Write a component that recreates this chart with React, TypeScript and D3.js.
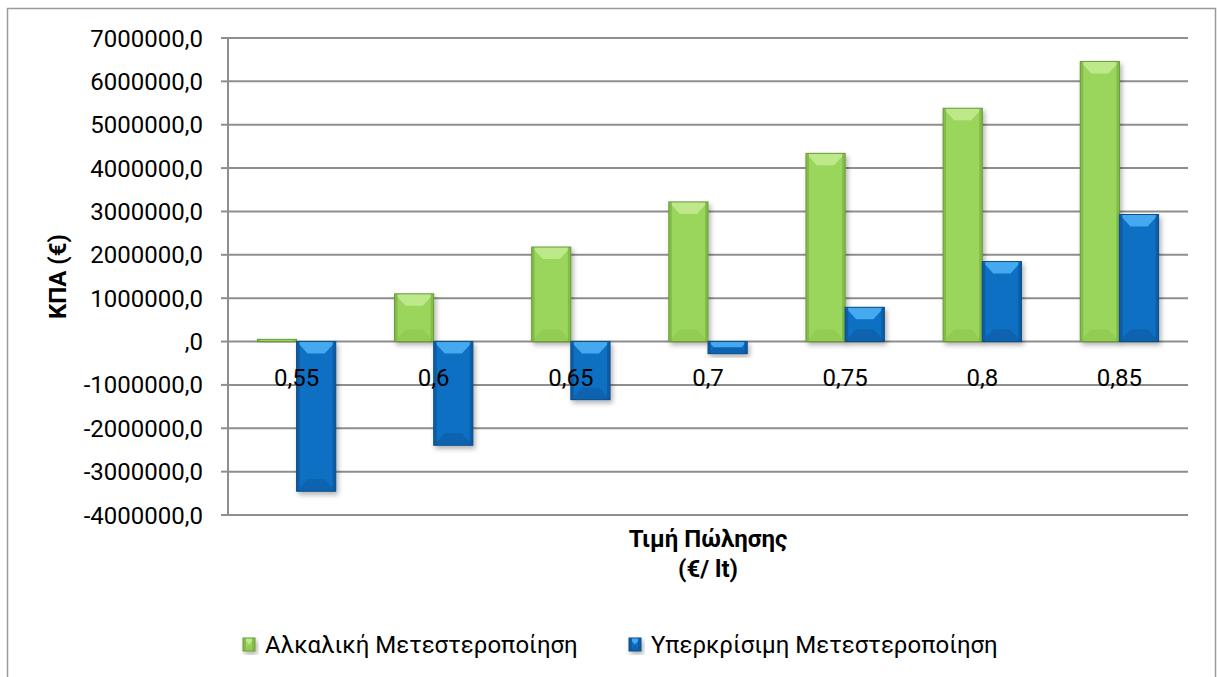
import React from "react";
import * as d3 from "d3";

// Selling price categories (€/lt)
const categories = ["0,55", "0,6", "0,65", "0,7", "0,75", "0,8", "0,85"];
// Net present value (€) per process
const alkaline = [50000, 1100000, 2180000, 3220000, 4340000, 5380000, 6460000];
const supercritical = [-3450000, -2390000, -1340000, -280000, 790000, 1845000, 2930000];
const seriesNames = ["Αλκαλική Μετεστεροποίηση", "Υπερκρίσιμη Μετεστεροποίηση"];
const yTicks = [7000000, 6000000, 5000000, 4000000, 3000000, 2000000, 1000000, 0, -1000000, -2000000, -3000000, -4000000];

const W = 1217;
const H = 677;
const FONT = "Roboto, 'Noto Sans', sans-serif";

type Palette = { main: string; top: string; bottom: string; edge: string; line: string };
const palettes: Palette[] = [
  { main: "#9bd65b", top: "#bde98b", bottom: "#92cc53", edge: "#7db545", line: "#6a9b38" },
  { main: "#0b6fc3", top: "#44a9ef", bottom: "#0963b0", edge: "#08579c", line: "#0a4e8a" },
];

const fmt = (v: number) => (v === 0 ? ",0" : `${v},0`);

function BevelBar({ x, y, w, h, p }: { x: number; y: number; w: number; h: number; p: Palette }) {
  const bv = Math.min(12, h / 2);
  const bx = Math.min(11, w / 2, bv);
  const e = Math.min(3, w / 4);
  return (
    <g filter="url(#shadow)">
      <rect x={x} y={y} width={w} height={h} fill={p.main} />
      <polygon
        points={`${x},${y} ${x + w},${y} ${x + w - bx},${y + bv} ${x + bx},${y + bv}`}
        fill={p.top}
      />
      <polygon
        points={`${x},${y + h} ${x + w},${y + h} ${x + w - bx},${y + h - bv} ${x + bx},${y + h - bv}`}
        fill={p.bottom}
      />
      <rect x={x} y={y} width={e} height={h} fill={p.edge} opacity={0.8} />
      <rect x={x + w - e} y={y} width={e} height={h} fill={p.edge} opacity={0.8} />
      <rect x={x} y={y} width={w} height={h} fill="none" stroke={p.line} strokeWidth={1} />
    </g>
  );
}

export default function App() {
  const left = 228;
  const right = 1188;
  const top = 38;
  const bottom = 515;

  const x = d3.scaleBand<string>().domain(categories).range([left, right]).padding(0);
  const xs = d3
    .scaleBand<string>()
    .domain(seriesNames)
    .range([0, x.bandwidth()])
    .paddingInner(0)
    .paddingOuter(0.75);
  const y = d3.scaleLinear().domain([-4000000, 7000000]).range([bottom, top]);
  const y0 = y(0);
  const series = [alkaline, supercritical];

  return (
    <div>
      <style>{`body{margin:0}`}</style>
      <svg width={W} height={H} style={{ display: "block" }}>
        <defs>
          <filter id="shadow" x="-30%" y="-30%" width="160%" height="160%">
            <feDropShadow dx="2" dy="3" stdDeviation="2.5" floodColor="#000" floodOpacity="0.3" />
          </filter>
        </defs>
        <rect x={0} y={0} width={W} height={H} fill="#fff" />
        <rect x={7.5} y={8.5} width={1208} height={700} fill="#fff" stroke="#9a9a9a" strokeWidth={1.5} />

        {/* horizontal gridlines and y ticks */}
        {yTicks.map((t) => (
          <g key={t}>
            <line x1={left} x2={right} y1={y(t)} y2={y(t)} stroke="#8e8e8e" strokeWidth={2} />
            <line x1={221} x2={left} y1={y(t)} y2={y(t)} stroke="#8e8e8e" strokeWidth={2} />
            <text
              x={203}
              y={y(t) + 8.5}
              textAnchor="end"
              fontFamily={FONT}
              fontSize={24}
              fill="#000"
            >
              {fmt(t)}
            </text>
          </g>
        ))}
        <line x1={left} x2={left} y1={top} y2={bottom} stroke="#8e8e8e" strokeWidth={2} />

        {/* bars */}
        {categories.map((c, i) => (
          <g key={c}>
            {series.map((vals, s) => {
              const v = vals[i];
              const bx = (x(c) as number) + (xs(seriesNames[s]) as number);
              const yy = Math.min(y(v), y0);
              const hh = Math.abs(y(v) - y0);
              return <BevelBar key={s} x={bx} y={yy} w={xs.bandwidth()} h={hh} p={palettes[s]} />;
            })}
          </g>
        ))}

        {/* category labels sit next to the zero line */}
        {categories.map((c) => (
          <text
            key={c}
            x={(x(c) as number) + x.bandwidth() / 2}
            y={y0 + 44}
            textAnchor="middle"
            fontFamily={FONT}
            fontSize={24}
            fill="#000"
          >
            {c}
          </text>
        ))}

        {/* axis titles */}
        <text
          transform={`translate(66, ${(top + bottom) / 2}) rotate(-90)`}
          textAnchor="middle"
          fontFamily={FONT}
          fontSize={24}
          fontWeight="bold"
          fill="#000"
        >
          ΚΠΑ (€)
        </text>
        <text
          x={(left + right) / 2}
          y={547}
          textAnchor="middle"
          fontFamily={FONT}
          fontSize={24}
          fontWeight="bold"
          fill="#000"
        >
          Τιμή Πώλησης
        </text>
        <text
          x={(left + right) / 2}
          y={577}
          textAnchor="middle"
          fontFamily={FONT}
          fontSize={24}
          fontWeight="bold"
          fill="#000"
        >
          (€/ lt)
        </text>

        {/* legend */}
        {seriesNames.map((name, s) => {
          const lx = s === 0 ? 243 : 629;
          return (
            <g key={name}>
              <BevelBar x={lx} y={638} w={12} h={13} p={palettes[s]} />
              <text x={lx + 22} y={653} fontFamily={FONT} fontSize={24} fill="#000">
                {name}
              </text>
            </g>
          );
        })}
      </svg>
    </div>
  );
}
